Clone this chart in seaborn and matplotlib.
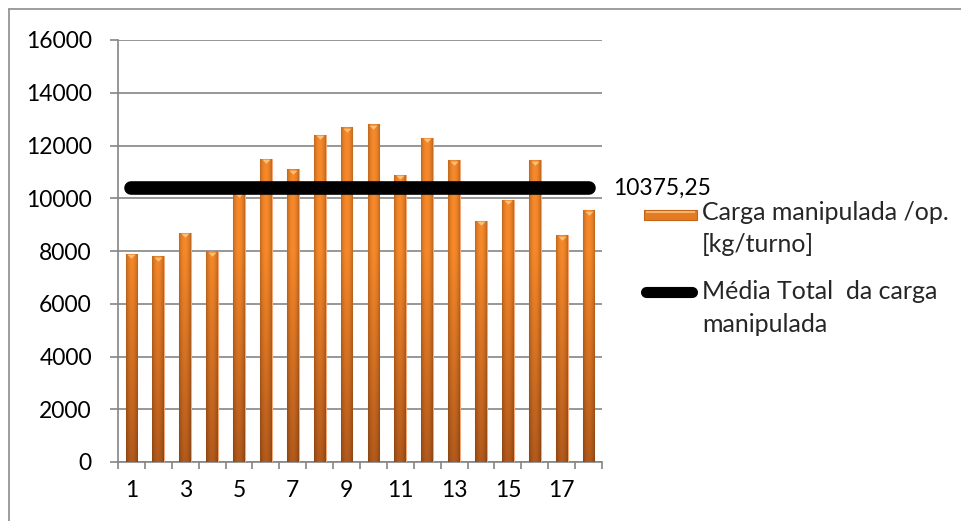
import numpy as np
import pandas as pd
import matplotlib
matplotlib.use("Agg")
import matplotlib.pyplot as plt
import matplotlib.transforms as mtransforms
from matplotlib.colors import to_rgb
from matplotlib.lines import Line2D
from matplotlib.patches import Rectangle
from matplotlib.path import Path
import seaborn as sns

# Load handled per operator shift
turnos = [str(i) for i in range(1, 19)]
carga = [7900, 7800, 8700, 8000, 10200, 11500, 11100, 12400, 12700,
         12800, 10900, 12300, 11450, 9150, 9950, 11450, 8600, 9550]
media_total = 10375.25
y_ticks = [0, 2000, 4000, 6000, 8000, 10000, 12000, 14000, 16000]
x_tick_labels = turnos[::2]

serie_barras = ["Carga manipulada /op.", "[kg/turno]"]
serie_media = ["Média Total  da carga", "manipulada"]

sns.set_theme(style="white")
plt.rcParams["font.family"] = ["Lato", "DejaVu Sans"]

W, H = 962, 521
fig = plt.figure(figsize=(W / 100, H / 100), dpi=100)
fig.patch.set_facecolor("white")


def fx(px):
    return px / W


def fy(py):
    return 1 - py / H


ax = fig.add_axes([fx(118), fy(462), fx(602) - fx(118), fy(40) - fy(462)])

GRID = "#858585"
df = pd.DataFrame({"turno": turnos, "carga": carga})
sns.barplot(data=df, x="turno", y="carga", color="#E27B22", width=0.44,
            edgecolor="#F2AA7A", linewidth=0.8, ax=ax, zorder=3)

# cylinder-like shading: brown at the base, orange higher up, darker rims
bottom_c = np.array(to_rgb("#A9551A"))
top_c = np.array(to_rgb("#EA8127"))
ny, nx = 128, 32
yy = np.linspace(0, 16000, ny)[:, None]
t = np.clip(yy / 8000.0, 0, 1)[..., None]
uu = np.linspace(0, 1, nx)[None, :]
shade = (0.80 + 0.26 * np.sin(np.pi * uu) ** 0.8)[..., None]
img = np.clip((bottom_c * (1 - t) + top_c * t) * shade, 0, 1)

for patch in list(ax.patches):
    x0 = patch.get_x()
    w = patch.get_width()
    im = ax.imshow(img, extent=(x0, x0 + w, 0, 16000), origin="lower",
                   aspect="auto", zorder=3.5, interpolation="bilinear")
    im.set_clip_path(patch)

# light cap on top of each bar
cap = Path([(-1.0, 0.45), (1.0, 0.45), (0.0, -0.55), (-1.0, 0.45)],
           [Path.MOVETO, Path.LINETO, Path.LINETO, Path.CLOSEPOLY])
cap_tr = ax.transData + mtransforms.ScaledTranslation(0, -2.5 / 100, fig.dpi_scale_trans)
ax.scatter(np.arange(len(carga)), carga, marker=cap, s=34, color="#F7C27A",
           linewidths=0, zorder=4, transform=cap_tr)

# overall average line
sns.lineplot(x=np.arange(len(turnos)), y=[media_total] * len(turnos),
             color="black", linewidth=9.8, solid_capstyle="round",
             ax=ax, zorder=5)
ax.annotate(f"{media_total:.2f}".replace(".", ","), xy=(len(turnos) - 1, media_total),
            xytext=(18, 0), textcoords="offset points", ha="left",
            va="center", fontsize=16.5, color="black")

ax.set_xlim(-0.5, len(turnos) - 0.5)
ax.set_ylim(0, 16000)
ax.set_yticks(y_ticks)
ax.set_yticklabels([str(v) for v in y_ticks])
ax.set_xticks(np.arange(0, len(turnos), 2))
ax.set_xticklabels(x_tick_labels)
ax.set_xticks(np.arange(-0.5, len(turnos), 1), minor=True)
ax.set_xlabel("")
ax.set_ylabel("")

ax.grid(axis="y", color=GRID, linewidth=1.2)
ax.set_axisbelow(True)
for side in ("top", "right"):
    ax.spines[side].set_visible(False)
for side in ("left", "bottom"):
    ax.spines[side].set_color(GRID)
    ax.spines[side].set_linewidth(1.2)

ax.tick_params(axis="y", left=True, length=5.8, width=1.2, color=GRID,
               pad=13, labelsize=16.5, labelcolor="black")
ax.tick_params(axis="x", which="major", bottom=True, length=0, pad=13,
               labelsize=16.5, labelcolor="black")
ax.tick_params(axis="x", which="minor", bottom=True, length=5.2, width=1.2,
               color=GRID)

# legend drawn in figure pixels
fig.add_artist(Rectangle((fx(644), fy(220)), fx(697) - fx(644), fy(210) - fy(220),
                         transform=fig.transFigure, facecolor="#E27B22",
                         edgecolor="#C4631A", linewidth=0.8))
fig.add_artist(Rectangle((fx(646), fy(213)), fx(695) - fx(646), fy(211) - fy(213),
                         transform=fig.transFigure, facecolor="#F6B468",
                         edgecolor="none"))
fig.add_artist(Line2D([fx(646), fx(692)], [fy(292), fy(292)], transform=fig.transFigure,
                      color="black", linewidth=8.0, solid_capstyle="round"))

LEG_FS = 18
fig.text(fx(702), fy(220), serie_barras[0], fontsize=LEG_FS, va="baseline", ha="left")
fig.text(fx(702), fy(252), serie_barras[1], fontsize=LEG_FS, va="baseline", ha="left")
fig.text(fx(702), fy(299), serie_media[0], fontsize=LEG_FS, va="baseline", ha="left")
fig.text(fx(702), fy(332), serie_media[1], fontsize=LEG_FS, va="baseline", ha="left")

# outer chart border
fig.add_artist(Line2D([fx(8.5), fx(8.5)], [0, fy(8.5)], transform=fig.transFigure,
                      color="#8C8C8C", linewidth=1.2))
fig.add_artist(Line2D([fx(8.5), 1], [fy(8.5), fy(8.5)], transform=fig.transFigure,
                      color="#8C8C8C", linewidth=1.2))

fig.savefig("out.png", dpi=100)
